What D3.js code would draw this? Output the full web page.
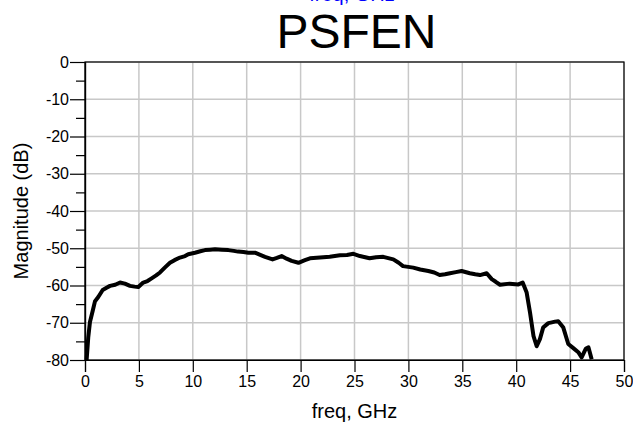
<!DOCTYPE html>
<html>
<head>
    <meta charset="utf-8">
    <title>PSFEN</title>
    <script src="https://d3js.org/d3.v7.min.js"></script>
    <style>
        body { margin: 0; background: white; font-family: Arial, "Liberation Sans", sans-serif; }
        .grid line { stroke: #c8c8c8; stroke-width: 1.5; }
        .axis text { font-size: 16px; fill: #000; }
    </style>
</head>
<body>
    <div id="chart"></div>
    <script>
        // Trace (freq in GHz, magnitude in dB)
        const freq = [0.15, 0.3, 0.46, 0.7, 0.93, 1.23, 1.64, 2.0, 2.32, 2.8, 3.25, 3.7, 4.17, 4.6, 4.95, 5.4,
            5.8, 6.18, 6.6, 6.96, 7.4, 7.88, 8.3, 8.81, 9.28, 9.58, 10.2, 10.7, 11.13, 11.6, 12.06, 12.7, 13.3,
            13.8, 14.2, 14.7, 15.15, 15.77, 16.2, 16.7, 17.4, 17.8, 18.24, 18.7, 19.17, 19.8, 20.4, 20.87, 21.8,
            22.7, 23.65, 24.3, 24.9, 25.5, 26.4, 27.0, 27.67, 28.6, 29.1, 29.5, 30.45, 31.1, 31.85, 32.4, 32.9,
            33.4, 33.86, 34.4, 34.94, 35.7, 36.2, 36.64, 37.26, 37.73, 38.1, 38.5, 39.4, 40.2, 40.6, 40.97,
            41.28, 41.6, 41.9, 42.2, 42.5, 42.98, 43.3, 43.6, 43.9, 44.37, 44.83, 45.3, 45.76, 46.07, 46.47,
            46.7, 47.0];
        const magnitude = [-80, -74, -69.8, -67, -64.2, -63.1, -61.2, -60.6, -60.1, -59.8, -59.2, -59.5, -60.1,
            -60.3, -60.4, -59.2, -58.8, -58.1, -57.3, -56.5, -55.2, -53.9, -53.2, -52.5, -52.1, -51.6, -51.2,
            -50.8, -50.5, -50.4, -50.3, -50.4, -50.5, -50.7, -50.9, -51.0, -51.2, -51.2, -51.7, -52.3, -53.0,
            -52.6, -52.1, -52.8, -53.4, -53.9, -53.2, -52.7, -52.5, -52.3, -51.9, -51.8, -51.5, -52.1, -52.7,
            -52.4, -52.3, -53.0, -53.9, -54.8, -55.2, -55.7, -56.1, -56.5, -57.2, -57.0, -56.7, -56.4, -56.1,
            -56.7, -57.0, -57.2, -56.7, -58.3, -59.0, -59.8, -59.5, -59.7, -59.2, -61.9, -67.2, -73.5, -76.3,
            -74.4, -71.3, -70.1, -69.9, -69.7, -69.6, -71.3, -75.7, -76.8, -77.9, -79.3, -76.9, -76.6, -79.8];
        const xTicks = [0, 5, 10, 15, 20, 25, 30, 35, 40, 45, 50];
        const yTicks = [0, -10, -20, -30, -40, -50, -60, -70, -80];
        const yMinorTicks = [-5, -15, -25, -35, -45, -55, -65, -75];
        const title = 'PSFEN';
        const subTitle = 'freq, GHz';
        const xLabel = 'freq, GHz';
        const yLabel = 'Magnitude (dB)';

        const width = 633, height = 425;
        const margin = { top: 62, right: 9, bottom: 65, left: 85 };
        const innerW = width - margin.left - margin.right;
        const innerH = height - margin.top - margin.bottom;

        const svg = d3.select('#chart').append('svg')
            .attr('width', width)
            .attr('height', height);

        const x = d3.scaleLinear().domain([0, 50]).range([margin.left, margin.left + innerW]);
        const y = d3.scaleLinear().domain([-80, 0]).range([margin.top + innerH, margin.top]);

        // grid
        const grid = svg.append('g').attr('class', 'grid');
        grid.selectAll('.vx').data(xTicks).enter().append('line')
            .attr('x1', d => x(d)).attr('x2', d => x(d))
            .attr('y1', y(0)).attr('y2', y(-80));
        grid.selectAll('.hy').data(yTicks).enter().append('line')
            .attr('y1', d => y(d)).attr('y2', d => y(d))
            .attr('x1', x(0)).attr('x2', x(50));

        // frame
        svg.append('rect')
            .attr('x', x(0)).attr('y', y(0))
            .attr('width', x(50) - x(0)).attr('height', y(-80) - y(0))
            .attr('fill', 'none').attr('stroke', '#000').attr('stroke-width', 1.2);

        // axes (plain hyphen minus like the reference)
        const fmt = d => String(d);
        svg.append('g').attr('class', 'axis')
            .attr('transform', `translate(0,${y(-80)})`)
            .call(d3.axisBottom(x).tickValues(xTicks).tickSize(12).tickPadding(4).tickFormat(fmt));
        svg.append('g').attr('class', 'axis')
            .attr('transform', `translate(${x(0)},0)`)
            .call(d3.axisLeft(y).tickValues(yTicks).tickSize(15).tickPadding(1).tickFormat(fmt));
        svg.append('g').attr('class', 'axis')
            .attr('transform', `translate(${x(0)},0)`)
            .call(d3.axisLeft(y).tickValues(yMinorTicks).tickSize(9).tickFormat(''));
        svg.selectAll('.axis .domain').attr('stroke', '#000').attr('stroke-width', 1.2);
        svg.selectAll('.axis .tick line').attr('stroke', '#000').attr('stroke-width', 1.2);
        svg.selectAll('.axis text').style('font-family', 'Arial, "Liberation Sans", sans-serif');

        // trace
        const line = d3.line()
            .x((d, i) => x(freq[i]))
            .y(d => y(d))
            .curve(d3.curveLinear);
        svg.append('path')
            .datum(magnitude)
            .attr('d', line)
            .attr('fill', 'none')
            .attr('stroke', '#000')
            .attr('stroke-width', 4)
            .attr('stroke-linejoin', 'round');

        // titles
        svg.append('text')
            .attr('x', 352).attr('y', 1)
            .attr('text-anchor', 'middle')
            .attr('font-size', 20)
            .attr('fill', '#0000ff')
            .text(subTitle);
        svg.append('text')
            .attr('x', x(25) + 2).attr('y', 48)
            .attr('text-anchor', 'middle')
            .attr('font-size', 48)
            .attr('fill', '#000')
            .text(title);
        svg.append('text')
            .attr('x', x(25)).attr('y', 418)
            .attr('text-anchor', 'middle')
            .attr('font-size', 20)
            .text(xLabel);
        svg.append('text')
            .attr('transform', `translate(28,${y(-40)}) rotate(-90)`)
            .attr('text-anchor', 'middle')
            .attr('font-size', 20)
            .text(yLabel);
    </script>
</body>
</html>
